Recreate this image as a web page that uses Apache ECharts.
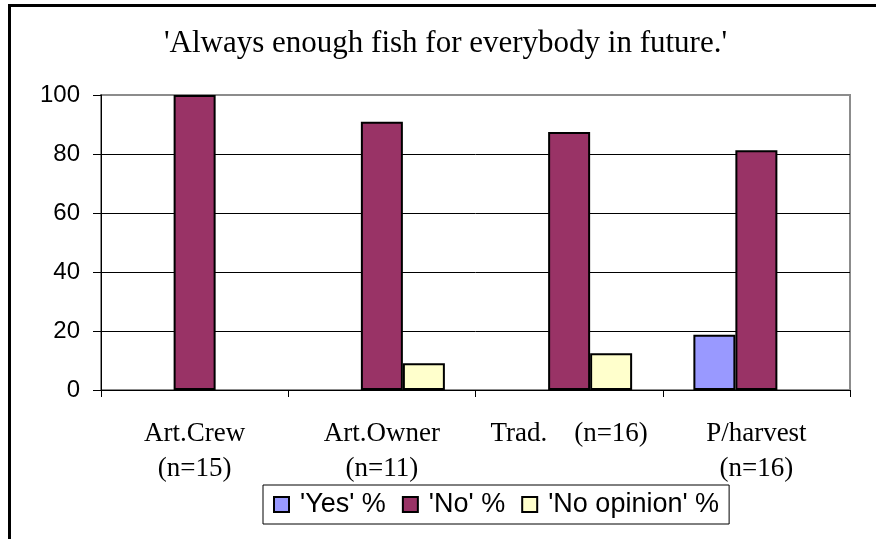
<!DOCTYPE html>
<html>
<head>
<meta charset="utf-8">
<script src="https://cdn.jsdelivr.net/npm/echarts@6/dist/echarts.min.js"></script>
<style>
  html, body { margin: 0; padding: 0; background: #fff; }
  #chart { width: 876px; height: 539px; }
</style>
</head>
<body>
<div id="chart"></div>
<script>
// Survey answers by respondent group (percent of respondents)
const categories = ['Art.Crew\n(n=15)', 'Art.Owner\n(n=11)', 'Trad.    (n=16)', 'P/harvest\n(n=16)'];
const yesPct = [0, 0, 0, 18.75];
const noPct = [100, 90.91, 87.5, 81.25];
const noOpinionPct = [0, 9.09, 12.5, 0];
const seriesNames = ["'Yes' %", "'No' %", "'No opinion' %"];
const yTicks = { min: 0, max: 100, interval: 20 };

const colors = ['#9999FF', '#993366', '#FFFFCC'];
const serif = "'Liberation Serif', 'Times New Roman', serif";
const sans = "'Liberation Sans', Arial, sans-serif";

const chart = echarts.init(document.getElementById('chart'), null, { renderer: 'canvas' });

function barSeries(name, data, color) {
  return {
    name: name,
    type: 'bar',
    // a 0% answer has no bar at all (no outline along the axis)
    data: data.map(v => (v === 0 ? '-' : v)),
    barWidth: 42,
    barGap: '0%',
    itemStyle: { color: color, borderColor: '#000', borderWidth: 2 },
    emphasis: { disabled: true }
  };
}

chart.setOption({
  animation: false,
  backgroundColor: '#fff',
  title: {
    text: "'Always enough fish for everybody in future.'",
    left: 164,
    top: 28,
    padding: 0,
    textStyle: { fontFamily: serif, fontSize: 31, fontWeight: 'normal', color: '#000' }
  },
  graphic: [
    { type: 'line', shape: { x1: 9.5, y1: 4, x2: 9.5, y2: 539 }, style: { stroke: '#000', lineWidth: 3 } },
    { type: 'line', shape: { x1: 8, y1: 5.5, x2: 876, y2: 5.5 }, style: { stroke: '#000', lineWidth: 3 } }
  ],
  grid: {
    left: 101, right: 26, top: 95, bottom: 149,
    show: true, borderColor: '#8c8c8c', borderWidth: 2, backgroundColor: 'transparent'
  },
  legend: {
    data: seriesNames,
    left: 263, top: 485,
    padding: [6, 10, 6, 10],
    itemGap: 16,
    itemWidth: 15, itemHeight: 15,
    icon: 'rect',
    borderColor: '#000', borderWidth: 1,
    itemStyle: { borderColor: '#000', borderWidth: 2 },
    textStyle: { fontFamily: sans, fontSize: 27, color: '#000', padding: [0, 0, 0, 6] }
  },
  xAxis: {
    type: 'category',
    data: categories,
    axisLine: { lineStyle: { color: '#000', width: 1 } },
    axisTick: { show: true, length: 7, lineStyle: { color: '#000' } },
    axisLabel: {
      interval: 0, margin: 26, color: '#000',
      fontFamily: serif, fontSize: 27, lineHeight: 35
    },
    splitLine: { show: false }
  },
  yAxis: {
    type: 'value',
    min: yTicks.min, max: yTicks.max, interval: yTicks.interval,
    axisLine: { show: true, lineStyle: { color: '#000', width: 1 } },
    axisTick: { show: true, length: 8, lineStyle: { color: '#000' } },
    axisLabel: { margin: 21, color: '#000', fontFamily: sans, fontSize: 24 },
    splitLine: { show: true, showMaxLine: false, lineStyle: { color: '#000', width: 1 } }
  },
  series: [
    barSeries(seriesNames[0], yesPct, colors[0]),
    barSeries(seriesNames[1], noPct, colors[1]),
    barSeries(seriesNames[2], noOpinionPct, colors[2])
  ]
});
</script>
</body>
</html>
